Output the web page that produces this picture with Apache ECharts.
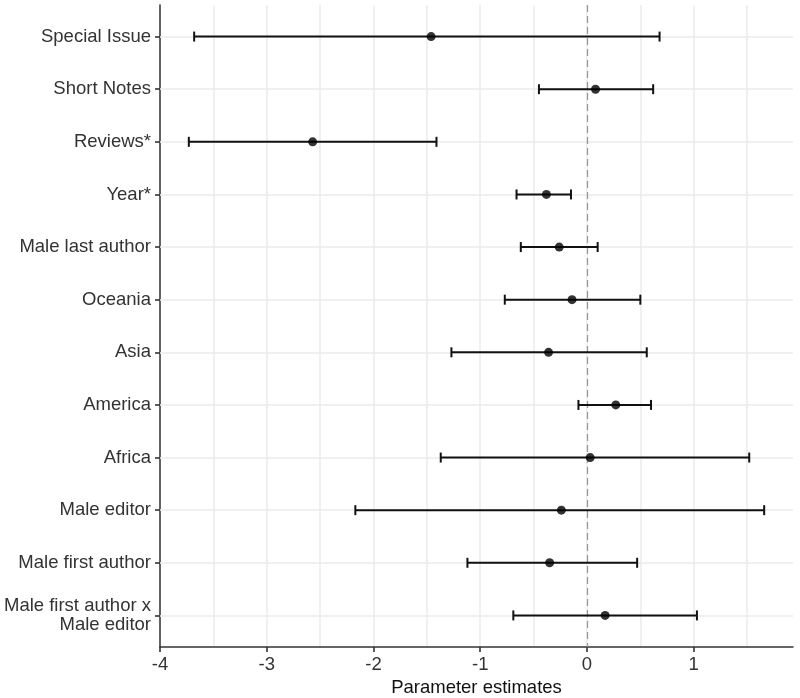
<!DOCTYPE html>
<html>
<head>
<meta charset="utf-8">
<script src="https://cdn.jsdelivr.net/npm/echarts@6/dist/echarts.min.js"></script>
<style>
  html, body { margin: 0; padding: 0; background: #fff; }
  #chart { width: 800px; height: 698px; }
</style>
</head>
<body>
<div id="chart"></div>
<script>
// categories, top to bottom
const labels = ['Special Issue', 'Short Notes', 'Reviews*', 'Year*', 'Male last author', 'Oceania',
  'Asia', 'America', 'Africa', 'Male editor', 'Male first author', 'Male first author x\nMale editor'];
// point estimates and confidence limits
const estimate = [-1.46, 0.08, -2.57, -0.38, -0.26, -0.14, -0.36, 0.27, 0.03, -0.24, -0.35, 0.17];
const lower = [-3.68, -0.45, -3.73, -0.66, -0.62, -0.77, -1.27, -0.08, -1.37, -2.17, -1.12, -0.69];
const upper = [0.68, 0.62, -1.41, -0.15, 0.10, 0.50, 0.56, 0.60, 1.52, 1.66, 0.47, 1.03];
const xTicks = [-4, -3, -2, -1, 0, 1];

const positions = labels.map((_, i) => i + 1);
const font = "'Liberation Sans', Arial, sans-serif";

const chart = echarts.init(document.getElementById('chart'));

chart.setOption({
  animation: false,
  grid: { left: 160, right: 7, top: 5, bottom: 51, containLabel: false, outerBoundsMode: 'none' },
  xAxis: [
    {
      // minor + major grid every 0.5
      type: 'value', min: -4, max: 1.93, interval: 0.5,
      axisLine: { show: false }, axisTick: { show: false }, axisLabel: { show: false },
      splitLine: { show: true, showMaxLine: false, lineStyle: { color: '#ebebeb', width: 1.5 } }
    },
    {
      type: 'value', min: -4, max: 1.93, position: 'bottom',
      axisLine: { show: true, onZero: false, lineStyle: { color: '#333', width: 1.5 } },
      axisTick: { show: true, length: 5, customValues: xTicks, lineStyle: { color: '#333', width: 1.6 } },
      axisLabel: { customValues: xTicks, fontSize: 18.5, color: '#333', margin: 8, fontFamily: font },
      splitLine: { show: false },
      name: 'Parameter estimates', nameLocation: 'middle', nameGap: 31,
      nameTextStyle: { fontSize: 18.5, color: '#111', fontFamily: font }
    }
  ],
  yAxis: {
    type: 'value', min: 0.4, max: 12.6, inverse: true,
    axisLine: { show: true, onZero: false, lineStyle: { color: '#333', width: 1.5 } },
    axisTick: { show: true, length: 5, customValues: positions, lineStyle: { color: '#333', width: 1.6 } },
    axisLabel: {
      customValues: positions, fontSize: 18.5, color: '#333', margin: 9, lineHeight: 19.5,
      padding: [3, 0, 0, 0],
      fontFamily: font, formatter: v => labels[Math.round(v) - 1] || ''
    },
    splitLine: { show: false }
  },
  series: [
    {
      // horizontal grid lines at each category
      type: 'line', data: [], xAxisIndex: 0, z: 1, silent: true,
      markLine: {
        z: 1, silent: true, symbol: 'none', label: { show: false },
        lineStyle: { color: '#ebebeb', width: 1.5, type: 'solid' },
        data: positions.map(p => ({ yAxis: p }))
      }
    },
    {
      // zero reference line
      type: 'line', data: [], xAxisIndex: 0, z: 2, silent: true,
      markLine: {
        z: 2, silent: true, symbol: 'none', label: { show: false },
        lineStyle: { color: '#999', width: 1.3, type: [7, 4] },
        data: [{ xAxis: 0 }]
      }
    },
    {
      type: 'custom', xAxisIndex: 0, z: 3,
      data: positions.map((p, i) => [lower[i], upper[i], p]),
      encode: { x: [0, 1], y: 2 },
      renderItem(params, api) {
        const y = api.value(2);
        const a = api.coord([api.value(0), y]);
        const b = api.coord([api.value(1), y]);
        const h = 5;
        const style = { stroke: '#111', lineWidth: 2 };
        return {
          type: 'group',
          children: [
            { type: 'line', shape: { x1: a[0], y1: a[1], x2: b[0], y2: b[1] }, style },
            { type: 'line', shape: { x1: a[0], y1: a[1] - h, x2: a[0], y2: a[1] + h }, style },
            { type: 'line', shape: { x1: b[0], y1: b[1] - h, x2: b[0], y2: b[1] + h }, style }
          ]
        };
      }
    },
    {
      type: 'scatter', xAxisIndex: 0, z: 4,
      symbol: 'circle', symbolSize: 9,
      itemStyle: { color: '#000' },
      data: positions.map((p, i) => [estimate[i], p])
    }
  ]
});
</script>
</body>
</html>
